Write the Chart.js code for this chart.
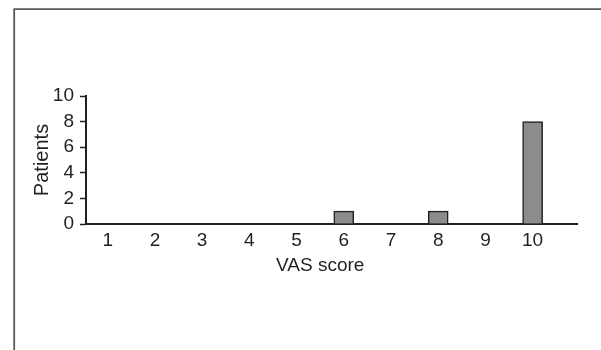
<!DOCTYPE html>
<html><head><meta charset="utf-8">
<script src="https://cdn.jsdelivr.net/npm/chart.js@4"></script>
<style>html,body{margin:0;padding:0;background:#fff}canvas{display:block}</style>
</head><body>
<canvas id="c" width="601" height="350"></canvas>
<script>
const categories = [1, 2, 3, 4, 5, 6, 7, 8, 9, 10];
const patients = [0, 0, 0, 0, 0, 1, 0, 1, 0, 8];
const yTicks = [0, 2, 4, 6, 8, 10];
const xTitle = 'VAS score';
const yTitle = 'Patients';

const FONT = '"Liberation Sans", Arial, sans-serif';
const INK = '#231f20';

const framePlugin = {
  id: 'frame',
  beforeDraw(chart) {
    const ctx = chart.ctx;
    ctx.save();
    ctx.strokeStyle = '#5a5a5a';
    ctx.lineWidth = 1.8;
    ctx.beginPath();
    ctx.moveTo(14.2, 350);
    ctx.lineTo(14.2, 9.2);
    ctx.lineTo(601, 9.2);
    ctx.stroke();
    ctx.restore();
  }
};
const xTitlePlugin = {
  id: 'xTitle',
  afterDraw(chart) {
    const xs = chart.scales.x;
    const ctx = chart.ctx;
    const mid = (categories[0] + categories[categories.length - 1]) / 2;
    ctx.save();
    ctx.font = '19px ' + FONT;
    ctx.fillStyle = INK;
    ctx.textAlign = 'center';
    ctx.textBaseline = 'alphabetic';
    ctx.fillText(xTitle, xs.getPixelForValue(mid), 270.5);
    ctx.restore();
  }
};

new Chart(document.getElementById('c'), {
  type: 'bar',
  data: {
    datasets: [{
      data: categories.map((c, i) => ({ x: c, y: patients[i] })),
      backgroundColor: '#8b8c8e',
      borderColor: INK,
      borderWidth: 1.5,
      barThickness: 20
    }]
  },
  options: {
    responsive: false,
    animation: false,
    devicePixelRatio: 1,
    layout: { padding: { top: 96, right: 24, bottom: 0, left: 0 } },
    plugins: { legend: { display: false }, tooltip: { enabled: false } },
    scales: {
      x: {
        type: 'linear',
        offset: false,
        min: 0.54,
        max: 10.94,
        afterBuildTicks(s) { s.ticks = categories.map(v => ({ value: v })); },
        afterFit(s) { s.height = 126; },
        grid: { display: false, drawTicks: false, offset: false },
        border: { display: true, color: INK, width: 2 },
        ticks: { font: { family: FONT, size: 19 }, color: INK, padding: 5, autoSkip: false, maxRotation: 0, callback: v => String(v) }
      },
      y: {
        min: 0,
        max: 10,
        afterBuildTicks(s) { s.ticks = yTicks.map(v => ({ value: v })); },
        afterFit(s) { s.width = 86; },
        grid: { drawOnChartArea: false, drawTicks: true, tickLength: 6, tickWidth: 1.5, tickColor: INK, color: INK },
        border: { display: true, color: INK, width: 2 },
        ticks: { font: { family: FONT, size: 19 }, color: INK, padding: 6, autoSkip: false },
        title: { display: true, text: yTitle, font: { family: FONT, size: 20 }, color: INK, padding: { top: 30, bottom: 0 } }
      }
    }
  },
  plugins: [framePlugin, xTitlePlugin]
});
</script>
</body></html>
